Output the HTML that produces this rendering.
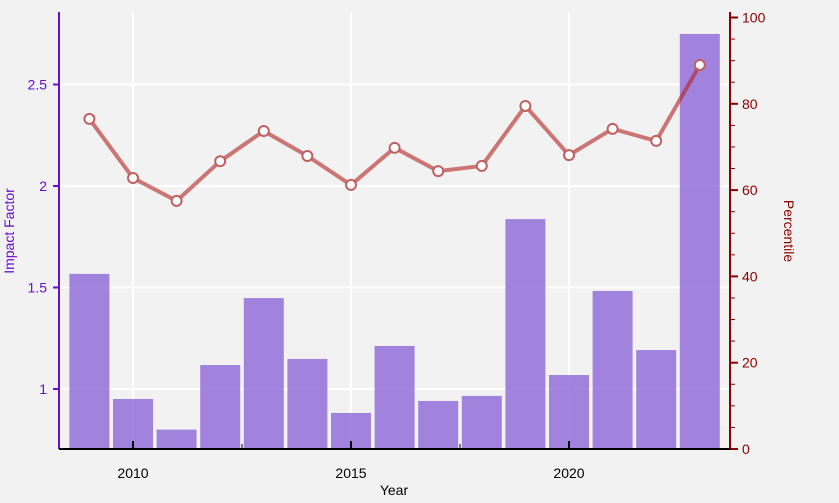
<!DOCTYPE html>
<html><head><meta charset="utf-8"><style>
body{margin:0;background:#f2f2f2;}
svg{display:block;font-family:"Liberation Sans",sans-serif;}
</style></head><body>
<svg id="c" width="839" height="503"></svg>
<script>
const years=[2009,2010,2011,2012,2013,2014,2015,2016,2017,2018,2019,2020,2021,2022,2023];
const impact=[1.567,0.951,0.80,1.118,1.448,1.148,0.882,1.212,0.941,0.966,1.837,1.069,1.483,1.192,2.749];
const percentile=[76.5,62.8,57.5,66.7,73.7,67.9,61.2,69.8,64.4,65.6,79.5,68.1,74.2,71.4,89.0];
const leftTicks=[1,1.5,2,2.5];
const leftLabels=["1","1.5","2","2.5"];
const rightTicks=[0,20,40,60,80,100];
const xTicks=[2010,2015,2020];

const NS="http://www.w3.org/2000/svg";
const svg=document.getElementById('c');
const L=59,R=730,T=12,B=449;
const x=v=>133+(v-2010)*43.6;
const yl=v=>389-(v-1)*203;
const yr=v=>449-v*4.315;
function el(tag,attrs,parent){const e=document.createElementNS(NS,tag);for(const k in attrs)e.setAttribute(k,attrs[k]);(parent||svg).appendChild(e);return e;}
function txt(s,attrs){const e=el('text',attrs);e.textContent=s;return e;}

const bg=el('rect',{x:0,y:0,width:839,height:503,fill:'#f2f2f2'});


leftTicks.forEach(v=>{const g=el('line',{x1:L,x2:R,y1:yl(v),y2:yl(v),stroke:'#fff','stroke-width':2});

});
xTicks.forEach(v=>{const g=el('line',{x1:x(v),x2:x(v),y1:T,y2:B,stroke:'#fff','stroke-width':2});

});

years.forEach((yv,i)=>{const b=el('rect',{x:x(yv)-20,y:yl(impact[i]),width:40,height:B-yl(impact[i]),fill:'#9370db','fill-opacity':0.85});

});

const pts=years.map((yv,i)=>x(yv)+','+yr(percentile[i])).join(' ');
const pl=el('polyline',{points:pts,fill:'none',stroke:'#b22222','stroke-opacity':0.6,'stroke-width':4,'stroke-linejoin':'round'});


years.forEach((yv,i)=>{const c=el('circle',{cx:x(yv),cy:yr(percentile[i]),r:5,fill:'#fff',stroke:'#c06060','stroke-width':2});

});

// left axis
const la=el('line',{x1:L,x2:L,y1:T,y2:B,stroke:'#6a0dd0','stroke-width':2});


leftTicks.forEach((v,i)=>{el('line',{x1:L-6,x2:L,y1:yl(v),y2:yl(v),stroke:'#6a0dd0','stroke-width':2});
const t=txt(leftLabels[i],{x:L-12,y:yl(v)+5,'text-anchor':'end','font-size':14,fill:'#6a0dd0'});

});
const lt=txt('Impact Factor',{x:14,y:231,'text-anchor':'middle','font-size':14,fill:'#6a0dd0',transform:'rotate(-90 14 231)'});



// right axis
const ra=el('line',{x1:R,x2:R,y1:T,y2:B,stroke:'#8b0000','stroke-width':2});


for(let v=0;v<=100;v+=5){const maj=v%20===0;el('line',{x1:R,x2:R+(maj?8:5),y1:yr(v),y2:yr(v),stroke:'#8b0000','stroke-width':maj?2:1});}
rightTicks.forEach(v=>{const t=txt(String(v),{x:R+12,y:yr(v)+5,'font-size':14,fill:'#8b0000'});

});
const rt=txt('Percentile',{x:784,y:231,'text-anchor':'middle','font-size':14,fill:'#8b0000',transform:'rotate(90 784 231)'});



// x axis
const xa=el('line',{x1:L,x2:R,y1:B,y2:B,stroke:'#000','stroke-width':2});


xTicks.forEach(v=>{el('line',{x1:x(v),x2:x(v),y1:B-8,y2:B,stroke:'#000','stroke-width':2});
const t=txt(String(v),{x:x(v),y:478,'text-anchor':'middle','font-size':14,fill:'#000'});

});
[2012.5,2017.5].forEach(v=>el('line',{x1:x(v),x2:x(v),y1:B-5,y2:B,stroke:'#000','stroke-width':1}));
const xt=txt('Year',{x:394,y:495,'text-anchor':'middle','font-size':14,fill:'#000'});


</script>
</body></html>
